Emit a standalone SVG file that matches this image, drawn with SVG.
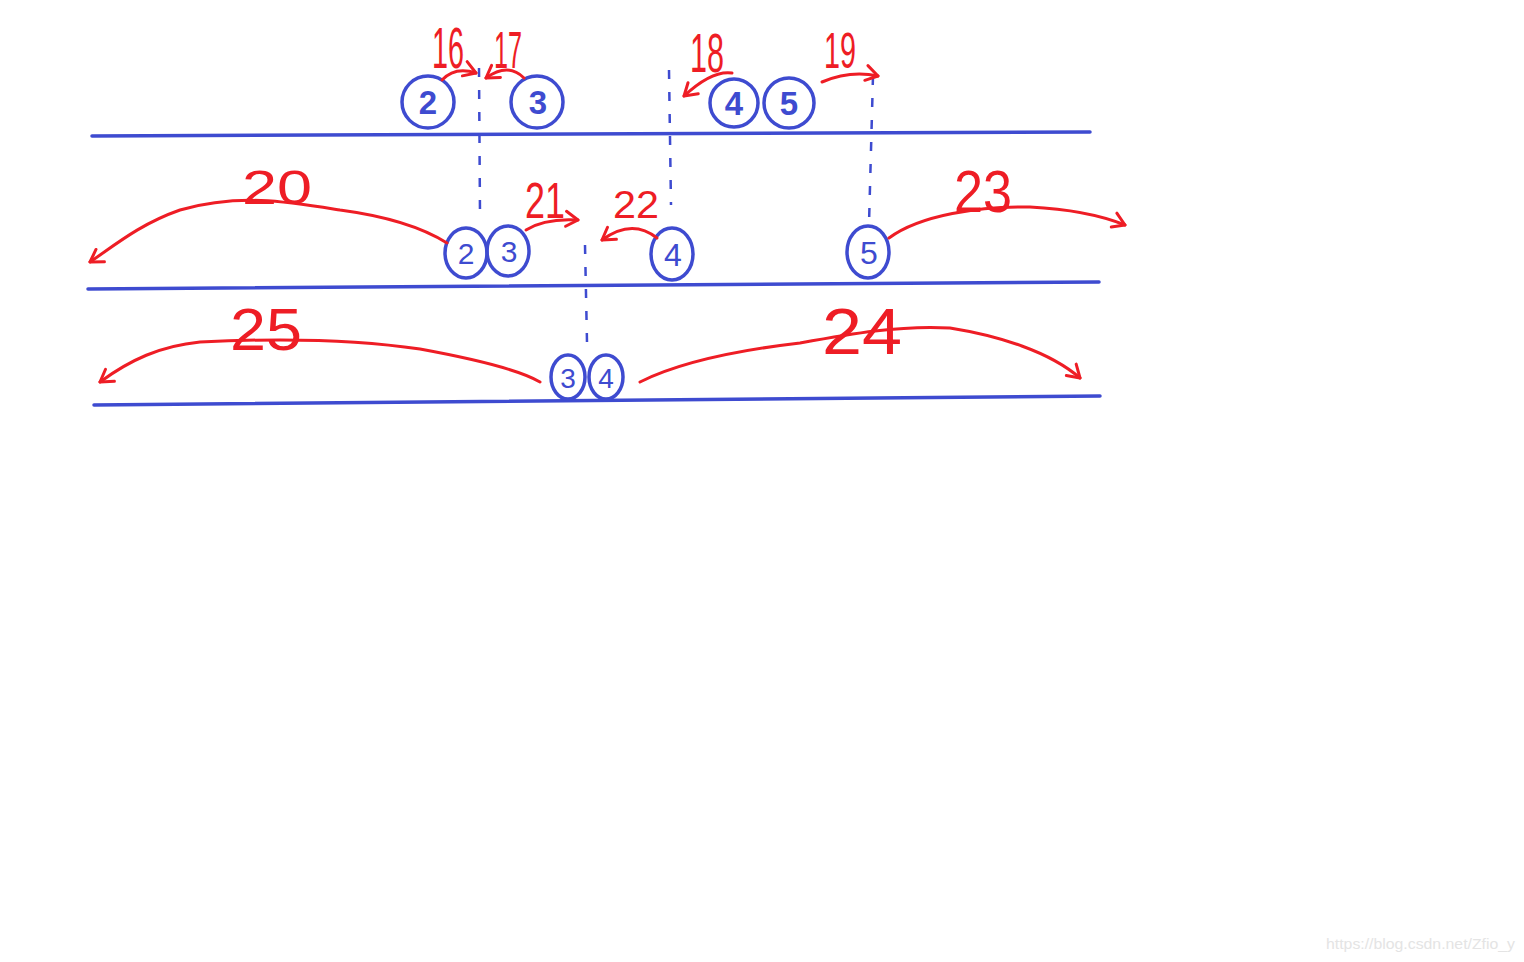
<svg xmlns="http://www.w3.org/2000/svg" width="1524" height="962" viewBox="0 0 1524 962">
<style>
.base{stroke:#3e4bd0;stroke-width:3.5;fill:none;stroke-linecap:round}
.dash{stroke:#3e4bd0;stroke-width:2.5;fill:none;stroke-dasharray:9 13}
.node{stroke:#3e4bd0;stroke-width:3.5;fill:none}
.ntxt{fill:#3e4bd0;font-family:"Liberation Sans",sans-serif;text-anchor:middle}
.arr{stroke:#ee1d25;stroke-width:3;fill:none;stroke-linecap:round;stroke-linejoin:round}
.lbl{fill:#ee1d25;font-family:"Liberation Sans",sans-serif;text-anchor:middle}
.wm{fill:#e4e4e4;font-family:"Liberation Sans",sans-serif;font-size:15px}
</style>
<defs>
<marker id="ah" viewBox="-14 -10 18 20" markerWidth="18" markerHeight="20" refX="0" refY="0" orient="auto" markerUnits="userSpaceOnUse">
<path d="M-12,-8 L0,0 L-12,7" stroke="#ee1d25" stroke-width="3" fill="none" stroke-linecap="round" stroke-linejoin="round"/>
</marker>
</defs>
<rect width="1524" height="962" fill="#ffffff"/>
<g id="baselines">
<path class="base" d="M92,136 L1090,132"/>
<path class="base" d="M88,289 L1099,282"/>
<path class="base" d="M94,405 L1100,396"/>
</g>
<g id="dashes">
<path class="dash" d="M479,68 L480,215"/>
<path class="dash" d="M669,70 L671,205"/>
<path class="dash" d="M873,76 L869,224"/>
<path class="dash" d="M585,245 L587,342"/>
</g>
<g id="node-top-2"><circle class="node" cx="428" cy="102" r="26"/><text class="ntxt" x="428" y="114" font-size="33" font-weight="bold">2</text></g>
<g id="node-top-3"><circle class="node" cx="537" cy="102" r="26"/><text class="ntxt" x="538" y="114" font-size="33" font-weight="bold">3</text></g>
<g id="node-top-4"><circle class="node" cx="734" cy="103" r="24"/><text class="ntxt" x="734" y="115" font-size="33" font-weight="bold">4</text></g>
<g id="node-top-5"><circle class="node" cx="789" cy="103" r="25"/><text class="ntxt" x="789" y="115" font-size="33" font-weight="bold">5</text></g>
<g id="node-mid-2"><ellipse class="node" cx="466" cy="253" rx="21" ry="25"/><text class="ntxt" x="466" y="264" font-size="30">2</text></g>
<g id="node-mid-3"><ellipse class="node" cx="508" cy="251" rx="21" ry="25"/><text class="ntxt" x="509" y="262" font-size="30">3</text></g>
<g id="node-mid-4"><ellipse class="node" cx="672" cy="254" rx="21" ry="26"/><text class="ntxt" x="673" y="266" font-size="32">4</text></g>
<g id="node-mid-5"><ellipse class="node" cx="868" cy="252" rx="21" ry="26"/><text class="ntxt" x="869" y="264" font-size="32">5</text></g>
<g id="node-bot-3"><ellipse class="node" cx="568" cy="377" rx="17" ry="22"/><text class="ntxt" x="568" y="388" font-size="28">3</text></g>
<g id="node-bot-4"><ellipse class="node" cx="606" cy="377" rx="17" ry="22"/><text class="ntxt" x="606" y="388" font-size="28">4</text></g>
<g id="connectors">
<path class="arr" marker-end="url(#ah)" d="M442,80 Q455,66 476,73"/>
<path class="arr" marker-end="url(#ah)" d="M524,78 Q508,62 486,78"/>
<path class="arr" marker-end="url(#ah)" d="M732,73 Q712,70 684,96"/>
<path class="arr" marker-end="url(#ah)" d="M822,82 Q850,70 878,76"/>
<path class="arr" marker-end="url(#ah)" d="M447,243 C420,226 385,216 340,210 C290,202 240,193 180,210 C140,224 115,245 90,262"/>
<path class="arr" marker-end="url(#ah)" d="M526,230 Q545,218 578,220"/>
<path class="arr" marker-end="url(#ah)" d="M657,238 Q632,218 602,240"/>
<path class="arr" marker-end="url(#ah)" d="M889,238 C920,215 980,206 1030,207 C1070,209 1100,215 1125,225"/>
<path class="arr" marker-end="url(#ah)" d="M540,382 C520,370 480,360 420,349 C360,340 280,338 200,342 C160,346 130,360 100,382"/>
<path class="arr" marker-end="url(#ah)" d="M640,382 C680,362 740,350 800,343 C850,334 900,325 950,328 C1000,336 1050,352 1080,378"/>
</g>
<g id="labels">
<text class="lbl" x="448" y="68" font-size="58" textLength="32" lengthAdjust="spacingAndGlyphs">16</text>
<text class="lbl" x="508" y="68" font-size="52" textLength="28" lengthAdjust="spacingAndGlyphs">17</text>
<text class="lbl" x="707" y="72" font-size="56" textLength="34" lengthAdjust="spacingAndGlyphs">18</text>
<text class="lbl" x="840" y="68" font-size="50" textLength="32" lengthAdjust="spacingAndGlyphs">19</text>
<text class="lbl" x="277" y="204" font-size="48" textLength="70" lengthAdjust="spacingAndGlyphs">20</text>
<text class="lbl" x="545" y="218" font-size="50" textLength="40" lengthAdjust="spacingAndGlyphs">21</text>
<text class="lbl" x="636" y="218" font-size="38" textLength="46" lengthAdjust="spacingAndGlyphs">22</text>
<text class="lbl" x="983" y="212" font-size="60" textLength="58" lengthAdjust="spacingAndGlyphs">23</text>
<text class="lbl" x="266" y="350" font-size="60" textLength="72" lengthAdjust="spacingAndGlyphs">25</text>
<text class="lbl" x="862" y="354" font-size="64" textLength="80" lengthAdjust="spacingAndGlyphs">24</text>
</g>
<text class="wm" x="1326" y="949" textLength="189" lengthAdjust="spacingAndGlyphs">https://blog.csdn.net/Zfio_y</text>
</svg>
